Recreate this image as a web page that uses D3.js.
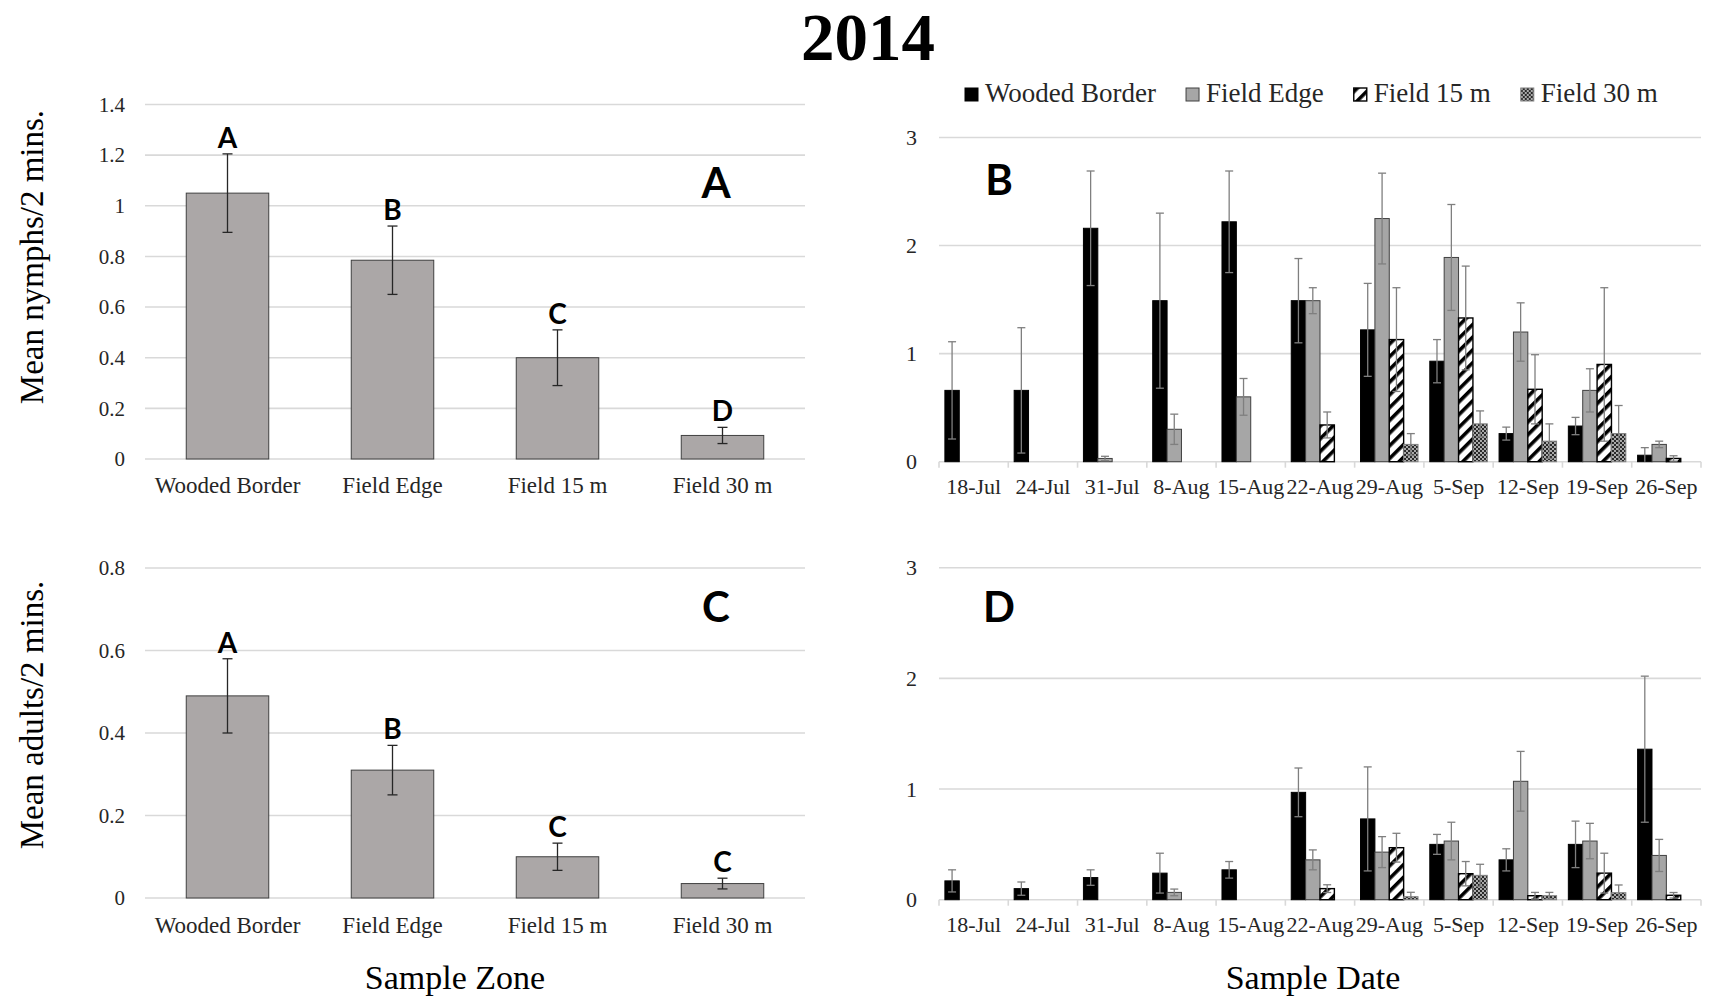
<!DOCTYPE html>
<html>
<head>
<meta charset="utf-8">
<script src="https://cdn.jsdelivr.net/npm/d3@7"></script>
<style>
  html, body { margin: 0; padding: 0; background: #fff; }
  svg { display: block; }
</style>
</head>
<body>
<script>
// ---- Data -------------------------------------------------------------

// Sample zones (panels A and C)
const zones = ["Wooded Border", "Field Edge", "Field 15 m", "Field 30 m"];

// Mean nymphs per 2-min drag by zone, with standard errors and letter groups
const nymphZoneMean = [1.05, 0.785, 0.40, 0.093];
const nymphZoneSE = [0.155, 0.135, 0.11, 0.032];
const nymphZoneGroups = ["A", "B", "C", "D"];

// Mean adults per 2-min drag by zone
const adultZoneMean = [0.49, 0.31, 0.10, 0.035];
const adultZoneSE = [0.09, 0.06, 0.033, 0.013];
const adultZoneGroups = ["A", "B", "C", "C"];

// Zone-panel axis ticks
const nymphZoneTicks = [0, 0.2, 0.4, 0.6, 0.8, 1, 1.2, 1.4];
const nymphZoneTickLabels = ["0", "0.2", "0.4", "0.6", "0.8", "1", "1.2", "1.4"];
const adultZoneTicks = [0, 0.2, 0.4, 0.6, 0.8];
const adultZoneTickLabels = ["0", "0.2", "0.4", "0.6", "0.8"];

// Sample dates (panels B and D)
const dates = ["18-Jul", "24-Jul", "31-Jul", "8-Aug", "15-Aug", "22-Aug",
               "29-Aug", "5-Sep", "12-Sep", "19-Sep", "26-Sep"];
const series = ["Wooded Border", "Field Edge", "Field 15 m", "Field 30 m"];

// Nymphs by date, one array per zone (0 = none collected)
const nymphWooded   = [0.66, 0.66, 2.16, 1.49, 2.22, 1.49, 1.22, 0.93, 0.26, 0.33, 0.06];
const nymphWoodedSE = [0.45, 0.58, 0.53, 0.81, 0.47, 0.39, 0.43, 0.20, 0.06, 0.08, 0.07];
const nymphEdge     = [0, 0, 0.03, 0.30, 0.60, 1.49, 2.25, 1.89, 1.20, 0.66, 0.16];
const nymphEdgeSE   = [0, 0, 0.02, 0.14, 0.17, 0.12, 0.42, 0.49, 0.27, 0.20, 0.03];
const nymph15       = [0, 0, 0, 0, 0, 0.34, 1.13, 1.33, 0.67, 0.90, 0.03];
const nymph15SE     = [0, 0, 0, 0, 0, 0.12, 0.48, 0.48, 0.32, 0.71, 0.025];
const nymph30       = [0, 0, 0, 0, 0, 0, 0.16, 0.35, 0.19, 0.26, 0];
const nymph30SE     = [0, 0, 0, 0, 0, 0, 0.10, 0.12, 0.16, 0.26, 0];

// Adults by date, one array per zone
const adultWooded   = [0.17, 0.10, 0.20, 0.24, 0.27, 0.97, 0.73, 0.50, 0.36, 0.50, 1.36];
const adultWoodedSE = [0.10, 0.06, 0.07, 0.18, 0.075, 0.22, 0.47, 0.09, 0.10, 0.21, 0.66];
const adultEdge     = [0, 0, 0, 0.066, 0, 0.36, 0.43, 0.53, 1.07, 0.53, 0.40];
const adultEdgeSE   = [0, 0, 0, 0.03, 0, 0.09, 0.14, 0.17, 0.27, 0.16, 0.145];
const adult15       = [0, 0, 0, 0, 0, 0.10, 0.47, 0.235, 0.036, 0.24, 0.04];
const adult15SE     = [0, 0, 0, 0, 0, 0.035, 0.13, 0.11, 0.03, 0.18, 0.025];
const adult30       = [0, 0, 0, 0, 0, 0, 0.027, 0.22, 0.036, 0.063, 0];
const adult30SE     = [0, 0, 0, 0, 0, 0, 0.04, 0.10, 0.03, 0.07, 0];

const dateTicks = [0, 1, 2, 3];
const dateTickLabels = ["0", "1", "2", "3"];

// ---- Styling ----------------------------------------------------------
const serif = "'Liberation Serif', 'Times New Roman', serif";
const sans = "Lato, 'Open Sans', 'DejaVu Sans', sans-serif";
const gridColor = "#d9d9d9";
const textColor = "#262626";

const W = 1711, H = 1002;
const svg = d3.select("body").append("svg")
  .attr("width", W).attr("height", H)
  .attr("viewBox", `0 0 ${W} ${H}`);
svg.append("rect").attr("width", W).attr("height", H).attr("fill", "#fff");

// Fill patterns for the two field-interior zones
const defs = svg.append("defs");
const hatch = defs.append("pattern")
  .attr("id", "hatch15").attr("patternUnits", "userSpaceOnUse")
  .attr("width", 9).attr("height", 9)
  .attr("patternTransform", "rotate(45)");
hatch.append("rect").attr("width", 9).attr("height", 9).attr("fill", "#fff");
hatch.append("rect").attr("width", 3.6).attr("height", 9).attr("fill", "#000");

const dots = defs.append("pattern")
  .attr("id", "dots30").attr("patternUnits", "userSpaceOnUse")
  .attr("width", 4).attr("height", 4);
dots.append("rect").attr("width", 4).attr("height", 4).attr("fill", "#2a2a2a");
dots.append("circle").attr("cx", 1).attr("cy", 1).attr("r", 0.9).attr("fill", "#e8e8e8");
dots.append("circle").attr("cx", 3).attr("cy", 3).attr("r", 0.9).attr("fill", "#e8e8e8");

const seriesStyle = [
  { fill: "#000000", stroke: "#000000", sw: 1 },
  { fill: "#a6a6a6", stroke: "#404040", sw: 1 },
  { fill: "url(#hatch15)", stroke: "#000000", sw: 1.4 },
  { fill: "url(#dots30)", stroke: "#7f7f7f", sw: 1 }
];

// ---- Title ------------------------------------------------------------
svg.append("text")
  .attr("x", 868).attr("y", 60)
  .attr("text-anchor", "middle")
  .attr("font-family", serif).attr("font-weight", "bold")
  .attr("font-size", 67).attr("fill", "#000")
  .text("2014");

// ---- Zone panels (A, C) ----------------------------------------------
function zonePanel(cfg) {
  const g = svg.append("g");
  const x = d3.scaleBand().domain(zones).range([cfg.left, cfg.right])
    .paddingInner(0.5).paddingOuter(0.25);
  const y = d3.scaleLinear().domain([0, cfg.yMax]).range([cfg.bottom, cfg.top]);

  g.selectAll("line.grid").data(cfg.ticks).join("line")
    .attr("class", "grid")
    .attr("x1", cfg.left).attr("x2", cfg.right)
    .attr("y1", d => y(d)).attr("y2", d => y(d))
    .attr("stroke", gridColor).attr("stroke-width", 1.6);

  const yAxis = g.append("g")
    .attr("transform", `translate(${cfg.left},0)`)
    .call(d3.axisLeft(y).tickValues(cfg.ticks)
      .tickFormat((d, i) => cfg.tickLabels[i]).tickSize(0).tickPadding(20));
  yAxis.select(".domain").remove();
  yAxis.selectAll("text")
    .attr("font-family", serif).attr("font-size", 21).attr("fill", textColor);

  const xAxis = g.append("g")
    .attr("transform", `translate(0,${cfg.bottom})`)
    .call(d3.axisBottom(x).tickSize(0));
  xAxis.select(".domain").remove();
  xAxis.selectAll("text")
    .attr("y", cfg.xLabelOffset).attr("dy", 0)
    .attr("font-family", serif).attr("font-size", 23).attr("fill", textColor);

  const rows = zones.map((z, i) => ({ z, m: cfg.means[i], se: cfg.se[i], grp: cfg.groups[i] }));

  g.selectAll("rect.bar").data(rows).join("rect")
    .attr("class", "bar")
    .attr("x", d => x(d.z)).attr("width", x.bandwidth())
    .attr("y", d => y(d.m)).attr("height", d => y(0) - y(d.m))
    .attr("fill", "#aba7a7").attr("stroke", "#404040").attr("stroke-width", 1);

  const cx = d => x(d.z) + x.bandwidth() / 2;
  const eb = g.selectAll("g.err").data(rows).join("g").attr("class", "err")
    .attr("stroke", "#262626").attr("stroke-width", 1.3);
  eb.append("line").attr("x1", cx).attr("x2", cx)
    .attr("y1", d => y(d.m - d.se)).attr("y2", d => y(d.m + d.se));
  eb.append("line").attr("x1", d => cx(d) - 5).attr("x2", d => cx(d) + 5)
    .attr("y1", d => y(d.m + d.se)).attr("y2", d => y(d.m + d.se));
  eb.append("line").attr("x1", d => cx(d) - 5).attr("x2", d => cx(d) + 5)
    .attr("y1", d => y(d.m - d.se)).attr("y2", d => y(d.m - d.se));

  g.selectAll("text.grp").data(rows).join("text")
    .attr("class", "grp")
    .attr("x", cx).attr("y", d => y(d.m + d.se) - 6)
    .attr("text-anchor", "middle")
    .attr("font-family", sans).attr("font-weight", 700)
    .attr("font-size", 28).attr("fill", "#000")
    .text(d => d.grp);

  g.append("text")
    .attr("x", cfg.letterX).attr("y", cfg.letterY)
    .attr("text-anchor", "middle")
    .attr("font-family", sans).attr("font-weight", 700)
    .attr("font-size", 42).attr("fill", "#000")
    .text(cfg.letter);

  g.append("text")
    .attr("transform", `translate(${cfg.titleX},${cfg.titleY}) rotate(-90)`)
    .attr("text-anchor", "middle").attr("dy", "0.35em")
    .attr("font-family", serif).attr("font-size", 33).attr("fill", "#000")
    .text(cfg.yTitle);
}

zonePanel({
  means: nymphZoneMean, se: nymphZoneSE, groups: nymphZoneGroups,
  yMax: 1.4, ticks: nymphZoneTicks, tickLabels: nymphZoneTickLabels,
  left: 145, right: 805, top: 104.5, bottom: 459, xLabelOffset: 34,
  letter: "A", letterX: 716, letterY: 198,
  yTitle: "Mean nymphs/2 mins.", titleX: 31, titleY: 257
});

zonePanel({
  means: adultZoneMean, se: adultZoneSE, groups: adultZoneGroups,
  yMax: 0.8, ticks: adultZoneTicks, tickLabels: adultZoneTickLabels,
  left: 145, right: 805, top: 568, bottom: 898, xLabelOffset: 35,
  letter: "C", letterX: 716, letterY: 622,
  yTitle: "Mean adults/2 mins.", titleX: 31, titleY: 715
});

// ---- Date panels (B, D) ----------------------------------------------
function datePanel(cfg) {
  const g = svg.append("g");
  const x0 = d3.scaleBand().domain(dates).range([cfg.left, cfg.right])
    .paddingInner(0.17).paddingOuter(0.085);
  const x1 = d3.scaleBand().domain(series).range([0, x0.bandwidth()]);
  const y = d3.scaleLinear().domain([0, 3]).range([cfg.bottom, cfg.top]);

  g.selectAll("line.grid").data(dateTicks).join("line")
    .attr("class", "grid")
    .attr("x1", cfg.left).attr("x2", cfg.right)
    .attr("y1", d => y(d)).attr("y2", d => y(d))
    .attr("stroke", gridColor).attr("stroke-width", 1.6);

  // Tick marks sit on the boundaries between date groups
  const bounds = d3.range(dates.length + 1).map(i => x0.range()[0] + i * x0.step());
  g.selectAll("line.tick").data(bounds).join("line")
    .attr("class", "tick")
    .attr("x1", d => d).attr("x2", d => d)
    .attr("y1", cfg.bottom).attr("y2", cfg.bottom + 6)
    .attr("stroke", gridColor).attr("stroke-width", 1.6);

  const yAxis = g.append("g")
    .attr("transform", `translate(${cfg.left},0)`)
    .call(d3.axisLeft(y).tickValues(dateTicks)
      .tickFormat((d, i) => dateTickLabels[i]).tickSize(0).tickPadding(22));
  yAxis.select(".domain").remove();
  yAxis.selectAll("text")
    .attr("font-family", serif).attr("font-size", 22).attr("fill", textColor);

  const xAxis = g.append("g")
    .attr("transform", `translate(0,${cfg.bottom})`)
    .call(d3.axisBottom(x0).tickSize(0));
  xAxis.select(".domain").remove();
  xAxis.selectAll("text")
    .attr("y", 32).attr("dy", 0)
    .attr("font-family", serif).attr("font-size", 22).attr("fill", textColor);

  const rows = [];
  series.forEach((s, si) => {
    dates.forEach((d, di) => {
      const m = cfg.means[si][di];
      if (m > 0) rows.push({ s, si, d, m, se: cfg.se[si][di] });
    });
  });

  g.selectAll("rect.bar").data(rows).join("rect")
    .attr("class", "bar")
    .attr("x", r => x0(r.d) + x1(r.s)).attr("width", x1.bandwidth())
    .attr("y", r => y(r.m)).attr("height", r => y(0) - y(r.m))
    .attr("fill", r => seriesStyle[r.si].fill)
    .attr("stroke", r => seriesStyle[r.si].stroke)
    .attr("stroke-width", r => seriesStyle[r.si].sw);

  const cx = r => x0(r.d) + x1(r.s) + x1.bandwidth() / 2;
  const eb = g.selectAll("g.err").data(rows.filter(r => r.se > 0)).join("g")
    .attr("class", "err").attr("stroke", "#7f7f7f").attr("stroke-width", 1.3);
  eb.append("line").attr("x1", cx).attr("x2", cx)
    .attr("y1", r => y(Math.max(0, r.m - r.se))).attr("y2", r => y(r.m + r.se));
  eb.append("line").attr("x1", r => cx(r) - 4).attr("x2", r => cx(r) + 4)
    .attr("y1", r => y(r.m + r.se)).attr("y2", r => y(r.m + r.se));
  eb.filter(r => r.m - r.se > 0).append("line")
    .attr("x1", r => cx(r) - 4).attr("x2", r => cx(r) + 4)
    .attr("y1", r => y(r.m - r.se)).attr("y2", r => y(r.m - r.se));

  g.append("text")
    .attr("x", cfg.letterX).attr("y", cfg.letterY)
    .attr("text-anchor", "middle")
    .attr("font-family", sans).attr("font-weight", 700)
    .attr("font-size", 42).attr("fill", "#000")
    .text(cfg.letter);
}

datePanel({
  means: [nymphWooded, nymphEdge, nymph15, nymph30],
  se: [nymphWoodedSE, nymphEdgeSE, nymph15SE, nymph30SE],
  left: 939, right: 1701, top: 137.5, bottom: 461.7,
  letter: "B", letterX: 999, letterY: 195
});

datePanel({
  means: [adultWooded, adultEdge, adult15, adult30],
  se: [adultWoodedSE, adultEdgeSE, adult15SE, adult30SE],
  left: 939, right: 1701, top: 567.7, bottom: 899.7,
  letter: "D", letterX: 999, letterY: 622
});

// ---- Legend -----------------------------------------------------------
const legend = svg.append("g").attr("transform", "translate(965,0)");
let lx = 0;
series.forEach((s, i) => {
  const item = legend.append("g").attr("transform", `translate(${lx},0)`);
  item.append("rect")
    .attr("x", 0).attr("y", 88).attr("width", 13).attr("height", 13)
    .attr("fill", seriesStyle[i].fill)
    .attr("stroke", seriesStyle[i].stroke).attr("stroke-width", seriesStyle[i].sw);
  const t = item.append("text")
    .attr("x", 20).attr("y", 102)
    .attr("font-family", serif).attr("font-size", 27).attr("fill", textColor)
    .text(s);
  lx += 20 + t.node().getComputedTextLength() + 30;
});

// ---- Bottom axis titles -----------------------------------------------
svg.append("text")
  .attr("x", 455).attr("y", 989).attr("text-anchor", "middle")
  .attr("font-family", serif).attr("font-size", 34).attr("fill", "#000")
  .text("Sample Zone");
svg.append("text")
  .attr("x", 1313).attr("y", 989).attr("text-anchor", "middle")
  .attr("font-family", serif).attr("font-size", 34).attr("fill", "#000")
  .text("Sample Date");
</script>
</body>
</html>
